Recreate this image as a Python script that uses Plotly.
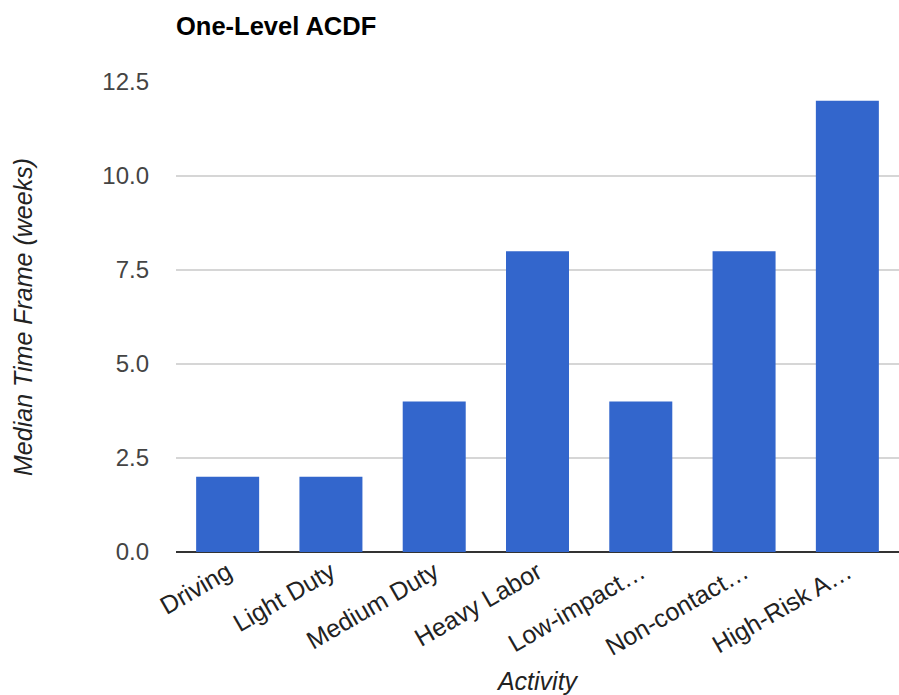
import plotly.graph_objects as go

# Median return-to-activity time frames after a one-level ACDF
activities = ["Driving", "Light Duty", "Medium Duty", "Heavy Labor",
              "Low-impact…", "Non-contact…", "High-Risk A…"]
weeks = [2, 2, 4, 8, 4, 8, 12]
y_ticks = [0, 2.5, 5, 7.5, 10, 12.5]

FONT = "Arial, Liberation Sans, sans-serif"

fig = go.Figure(
    go.Bar(
        x=activities,
        y=weeks,
        marker=dict(color="#3366CC", line=dict(width=0)),
        hoverinfo="x+y",
    )
)

fig.update_layout(
    width=899,
    height=695,
    margin=dict(l=176, r=0, t=82, b=143),
    paper_bgcolor="white",
    plot_bgcolor="white",
    bargap=0.39,
    showlegend=False,
    title=dict(
        text="<b>One-Level ACDF</b>",
        x=176 / 899,
        xanchor="left",
        y=1 - 26 / 695,
        yanchor="middle",
        font=dict(family=FONT, size=25.5, color="#000000"),
    ),
    font=dict(family=FONT, size=24, color="#444444"),
)

fig.update_xaxes(
    title=dict(text="<i>Activity</i>", font=dict(family=FONT, size=25, color="#222222"),
               standoff=16),
    tickangle=-30,
    tickfont=dict(family=FONT, size=25, color="#222222"),
    showgrid=False,
    showline=False,
    ticks="",
    zeroline=False,
)

fig.update_yaxes(
    title=dict(text="<i>Median Time Frame (weeks)</i>",
               font=dict(family=FONT, size=25, color="#222222"), standoff=62),
    range=[0, 12.5],
    tickvals=y_ticks,
    tickformat=".1f",
    tickfont=dict(family=FONT, size=24, color="#444444"),
    ticklabelstandoff=26,
    showgrid=True,
    gridcolor="#D6D6D6",
    gridwidth=2,
    zeroline=True,
    zerolinecolor="#333333",
    zerolinewidth=2,
    showline=False,
    ticks="",
)

fig.write_html("out.html")
